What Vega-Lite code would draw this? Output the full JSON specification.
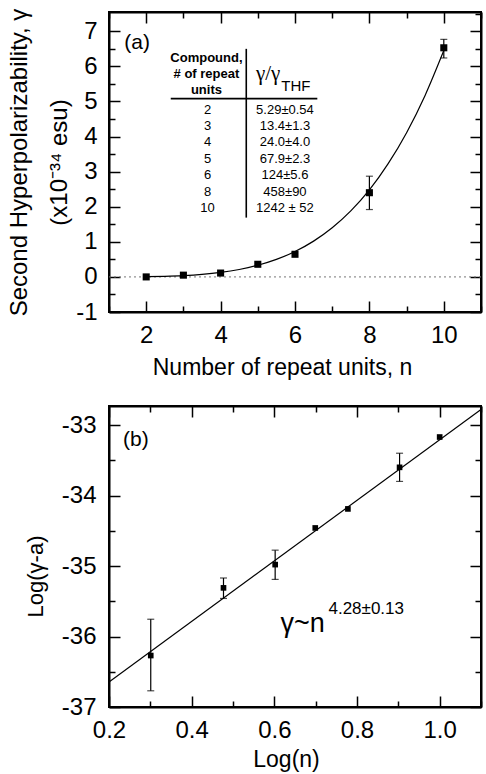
{
  "$schema": "https://vega.github.io/schema/vega-lite/v6.json",
  "background": "white",
  "padding": {"left": 6, "top": 7, "right": 0, "bottom": 0},
  "bounds": "flush",
  "spacing": 94,
  "datasets": {
    "topPts": [
      {"n": 2, "g": 0.0},
      {"n": 3, "g": 0.05},
      {"n": 4, "g": 0.11},
      {"n": 5, "g": 0.36},
      {"n": 6, "g": 0.645},
      {"n": 8, "g": 2.40, "lo": 1.92, "hi": 2.87},
      {"n": 10, "g": 6.53, "lo": 6.24, "hi": 6.77}
    ],
    "topFit": [
      {"n": 2, "g": 0.007}, {"n": 2.5, "g": 0.017}, {"n": 3, "g": 0.037}, {"n": 3.5, "g": 0.072},
      {"n": 4, "g": 0.128}, {"n": 4.5, "g": 0.212}, {"n": 5, "g": 0.332}, {"n": 5.5, "g": 0.499},
      {"n": 6, "g": 0.724}, {"n": 6.5, "g": 1.02}, {"n": 7, "g": 1.40}, {"n": 7.5, "g": 1.88},
      {"n": 8, "g": 2.48}, {"n": 8.5, "g": 3.22}, {"n": 9, "g": 4.11}, {"n": 9.5, "g": 5.18},
      {"n": 10, "g": 6.45}
    ],
    "topZero": [{"n": 1, "g": 0}, {"n": 11, "g": 0}],
    "table": [
      {"x": 3.62, "y": 6.24, "t": "Compound,", "role": "head"},
      {"x": 3.62, "y": 5.79, "t": "# of repeat", "role": "head"},
      {"x": 3.62, "y": 5.34, "t": "units", "role": "head"},
      {"x": 4.95, "y": 5.77, "t": "γ/γ", "role": "gam"},
      {"x": 5.63, "y": 5.44, "t": "THF", "role": "sub"},
      {"x": 3.65, "y": 4.77, "t": "2", "role": "val"},
      {"x": 3.65, "y": 4.30, "t": "3", "role": "val"},
      {"x": 3.65, "y": 3.84, "t": "4", "role": "val"},
      {"x": 3.65, "y": 3.37, "t": "5", "role": "val"},
      {"x": 3.65, "y": 2.90, "t": "6", "role": "val"},
      {"x": 3.65, "y": 2.43, "t": "8", "role": "val"},
      {"x": 3.65, "y": 1.97, "t": "10", "role": "val"},
      {"x": 5.73, "y": 4.77, "t": "5.29±0.54", "role": "val"},
      {"x": 5.73, "y": 4.30, "t": "13.4±1.3", "role": "val"},
      {"x": 5.73, "y": 3.84, "t": "24.0±4.0", "role": "val"},
      {"x": 5.73, "y": 3.37, "t": "67.9±2.3", "role": "val"},
      {"x": 5.73, "y": 2.90, "t": "124±5.6", "role": "val"},
      {"x": 5.73, "y": 2.43, "t": "458±90", "role": "val"},
      {"x": 5.73, "y": 1.97, "t": "1242 ± 52", "role": "val"}
    ],
    "tableH": [{"x": 2.66, "x2": 6.60, "y": 5.08}],
    "tableV": [{"x": 4.69, "y": 6.50, "y2": 1.69}],
    "labelA": [{"x": 1.41, "y": 6.67, "t": "(a)"}],
    "botPts": [
      {"x": 0.301, "y": -36.27, "lo": -36.77, "hi": -35.755},
      {"x": 0.477, "y": -35.31, "lo": -35.46, "hi": -35.17},
      {"x": 0.602, "y": -34.98, "lo": -35.19, "hi": -34.775},
      {"x": 0.699, "y": -34.46},
      {"x": 0.778, "y": -34.19},
      {"x": 0.903, "y": -33.60, "lo": -33.80, "hi": -33.40},
      {"x": 1.0, "y": -33.17}
    ],
    "botFit": [{"x": 0.2, "y": -36.645}, {"x": 1.1, "y": -32.78}],
    "labelB": [{"x": 0.234, "y": -33.21, "t": "(b)"}],
    "powMain": [{"x": 0.615, "y": -35.935, "t": "γ~n"}],
    "powSup": [{"x": 0.731, "y": -35.68, "t": "4.28±0.13"}]
  },
  "vconcat": [
    {
      "width": 372,
      "height": 300,
      "layer": [
        {
          "data": {"name": "topZero"},
          "mark": {"type": "line", "strokeDash": [2, 3], "color": "#777777", "strokeWidth": 1, "clip": true},
          "encoding": {
            "x": {"field": "n", "type": "quantitative", "scale": {"domain": [1, 11], "nice": false, "zero": false}, "axis": null},
            "y": {"field": "g", "type": "quantitative", "scale": {"domain": [-1, 7.55], "nice": false, "zero": false}, "axis": null}
          }
        },
        {
          "data": {"name": "topFit"},
          "mark": {"type": "line", "interpolate": "monotone", "color": "black", "strokeWidth": 1.2, "clip": true},
          "encoding": {
            "x": {"field": "n", "type": "quantitative", "scale": {"domain": [1, 11], "nice": false, "zero": false},
              "axis": {"orient": "top", "values": [1,2,3,4,5,6,7,8,9,10,11], "labels": false, "title": null,
                "tickSize": {"condition": {"test": "datum.value % 2 == 0", "value": -11}, "value": -6}}},
            "y": {"field": "g", "type": "quantitative", "scale": {"domain": [-1, 7.55], "nice": false, "zero": false},
              "axis": {"orient": "right", "values": [-1,-0.5,0,0.5,1,1.5,2,2.5,3,3.5,4,4.5,5,5.5,6,6.5,7,7.5], "labels": false, "title": null,
                "tickSize": {"condition": {"test": "datum.value % 1 == 0", "value": -11}, "value": -6}}}
          }
        },
        {
          "data": {"name": "topPts"},
          "transform": [{"filter": "datum.lo != null"}],
          "mark": {"type": "rule", "color": "black", "strokeWidth": 1.2, "clip": true},
          "encoding": {
            "x": {"field": "n", "type": "quantitative", "scale": {"domain": [1, 11], "nice": false, "zero": false}, "axis": null},
            "y": {"field": "lo", "type": "quantitative", "scale": {"domain": [-1, 7.55], "nice": false, "zero": false}, "axis": null},
            "y2": {"field": "hi"}
          }
        },
        {
          "data": {"name": "topPts"},
          "transform": [{"filter": "datum.lo != null"}],
          "mark": {"type": "tick", "orient": "horizontal", "color": "black", "size": 7, "thickness": 1.2, "clip": true},
          "encoding": {
            "x": {"field": "n", "type": "quantitative", "scale": {"domain": [1, 11], "nice": false, "zero": false}, "axis": null},
            "y": {"field": "lo", "type": "quantitative", "scale": {"domain": [-1, 7.55], "nice": false, "zero": false}, "axis": null}
          }
        },
        {
          "data": {"name": "topPts"},
          "transform": [{"filter": "datum.lo != null"}],
          "mark": {"type": "tick", "orient": "horizontal", "color": "black", "size": 7, "thickness": 1.2, "clip": true},
          "encoding": {
            "x": {"field": "n", "type": "quantitative", "scale": {"domain": [1, 11], "nice": false, "zero": false}, "axis": null},
            "y": {"field": "hi", "type": "quantitative", "scale": {"domain": [-1, 7.55], "nice": false, "zero": false}, "axis": null}
          }
        },
        {
          "data": {"name": "topPts"},
          "mark": {"type": "square", "filled": true, "color": "black", "size": 50, "opacity": 1},
          "encoding": {
            "x": {"field": "n", "type": "quantitative", "scale": {"domain": [1, 11], "nice": false, "zero": false},
              "axis": {"orient": "bottom", "values": [1,2,3,4,5,6,7,8,9,10,11],
                "labelExpr": "datum.value % 2 == 0 ? '' + datum.value : ''",
                "tickSize": {"condition": {"test": "datum.value % 2 == 0", "value": -11}, "value": -6},
                "labelPadding": 22, "title": "Number of repeat units, n", "titlePadding": 4, "titleX": 173}},
            "y": {"field": "g", "type": "quantitative", "scale": {"domain": [-1, 7.55], "nice": false, "zero": false},
              "axis": {"orient": "left", "values": [-1,-0.5,0,0.5,1,1.5,2,2.5,3,3.5,4,4.5,5,5.5,6,6.5,7],
                "labelExpr": "datum.value % 1 == 0 ? '' + datum.value : ''",
                "tickSize": {"condition": {"test": "datum.value % 1 == 0", "value": -11}, "value": -6},
                "labelPadding": 23, "title": ["Second Hyperpolarizability, γ", "(x10⁻³⁴ esu)\u00a0\u00a0\u00a0\u00a0\u00a0"], "titleFontSize": 24, "titleLineHeight": 40, "titlePadding": 4}}
          }
        },
        {
          "data": {"name": "table"},
          "transform": [{"filter": "datum.role == 'head'"}],
          "mark": {"type": "text", "font": "Liberation Sans", "fontSize": 13, "fontWeight": "bold", "color": "black", "align": "center", "baseline": "middle", "clip": true},
          "encoding": {
            "x": {"field": "x", "type": "quantitative", "scale": {"domain": [1, 11], "nice": false, "zero": false}, "axis": null},
            "y": {"field": "y", "type": "quantitative", "scale": {"domain": [-1, 7.55], "nice": false, "zero": false}, "axis": null},
            "text": {"field": "t"}
          }
        },
        {
          "data": {"name": "table"},
          "transform": [{"filter": "datum.role == 'val'"}],
          "mark": {"type": "text", "font": "Liberation Sans", "fontSize": 13, "color": "black", "align": "center", "baseline": "middle", "clip": true},
          "encoding": {
            "x": {"field": "x", "type": "quantitative", "scale": {"domain": [1, 11], "nice": false, "zero": false}, "axis": null},
            "y": {"field": "y", "type": "quantitative", "scale": {"domain": [-1, 7.55], "nice": false, "zero": false}, "axis": null},
            "text": {"field": "t"}
          }
        },
        {
          "data": {"name": "table"},
          "transform": [{"filter": "datum.role == 'gam'"}],
          "mark": {"type": "text", "font": "Liberation Serif", "fontSize": 21, "color": "black", "align": "left", "baseline": "middle", "clip": true},
          "encoding": {
            "x": {"field": "x", "type": "quantitative", "scale": {"domain": [1, 11], "nice": false, "zero": false}, "axis": null},
            "y": {"field": "y", "type": "quantitative", "scale": {"domain": [-1, 7.55], "nice": false, "zero": false}, "axis": null},
            "text": {"field": "t"}
          }
        },
        {
          "data": {"name": "table"},
          "transform": [{"filter": "datum.role == 'sub'"}],
          "mark": {"type": "text", "font": "Liberation Sans", "fontSize": 15, "color": "black", "align": "left", "baseline": "middle", "clip": true},
          "encoding": {
            "x": {"field": "x", "type": "quantitative", "scale": {"domain": [1, 11], "nice": false, "zero": false}, "axis": null},
            "y": {"field": "y", "type": "quantitative", "scale": {"domain": [-1, 7.55], "nice": false, "zero": false}, "axis": null},
            "text": {"field": "t"}
          }
        },
        {
          "data": {"name": "tableH"},
          "mark": {"type": "rule", "color": "black", "strokeWidth": 1.6, "clip": true},
          "encoding": {
            "x": {"field": "x", "type": "quantitative", "scale": {"domain": [1, 11], "nice": false, "zero": false}, "axis": null},
            "x2": {"field": "x2"},
            "y": {"field": "y", "type": "quantitative", "scale": {"domain": [-1, 7.55], "nice": false, "zero": false}, "axis": null}
          }
        },
        {
          "data": {"name": "tableV"},
          "mark": {"type": "rule", "color": "black", "strokeWidth": 1.6, "clip": true},
          "encoding": {
            "x": {"field": "x", "type": "quantitative", "scale": {"domain": [1, 11], "nice": false, "zero": false}, "axis": null},
            "y": {"field": "y", "type": "quantitative", "scale": {"domain": [-1, 7.55], "nice": false, "zero": false}, "axis": null},
            "y2": {"field": "y2"}
          }
        },
        {
          "data": {"name": "labelA"},
          "mark": {"type": "text", "font": "Liberation Sans", "fontSize": 21, "color": "black", "align": "left", "baseline": "middle", "clip": true},
          "encoding": {
            "x": {"field": "x", "type": "quantitative", "scale": {"domain": [1, 11], "nice": false, "zero": false}, "axis": null},
            "y": {"field": "y", "type": "quantitative", "scale": {"domain": [-1, 7.55], "nice": false, "zero": false}, "axis": null},
            "text": {"field": "t"}
          }
        }
      ],
      "resolve": {"axis": {"x": "independent", "y": "independent"}}
    },
    {
      "width": 372,
      "height": 301,
      "layer": [
        {
          "data": {"name": "botFit"},
          "mark": {"type": "line", "color": "black", "strokeWidth": 1.2, "clip": true},
          "encoding": {
            "x": {"field": "x", "type": "quantitative", "scale": {"domain": [0.2, 1.1], "nice": false, "zero": false},
              "axis": {"orient": "top", "values": [0.2,0.3,0.4,0.5,0.6,0.7,0.8,0.9,1.0,1.1], "labels": false, "title": null,
                "tickSize": {"condition": {"test": "round(datum.value*10) % 2 == 0", "value": -11}, "value": -6}}},
            "y": {"field": "y", "type": "quantitative", "scale": {"domain": [-37, -32.73], "nice": false, "zero": false},
              "axis": {"orient": "right", "values": [-37,-36.5,-36,-35.5,-35,-34.5,-34,-33.5,-33], "labels": false, "title": null,
                "tickSize": {"condition": {"test": "datum.value % 1 == 0", "value": -11}, "value": -6}}}
          }
        },
        {
          "data": {"name": "botPts"},
          "transform": [{"filter": "datum.lo != null"}],
          "mark": {"type": "rule", "color": "black", "strokeWidth": 1.2, "clip": true},
          "encoding": {
            "x": {"field": "x", "type": "quantitative", "scale": {"domain": [0.2, 1.1], "nice": false, "zero": false}, "axis": null},
            "y": {"field": "lo", "type": "quantitative", "scale": {"domain": [-37, -32.73], "nice": false, "zero": false}, "axis": null},
            "y2": {"field": "hi"}
          }
        },
        {
          "data": {"name": "botPts"},
          "transform": [{"filter": "datum.lo != null"}],
          "mark": {"type": "tick", "orient": "horizontal", "color": "black", "size": 7, "thickness": 1.2, "clip": true},
          "encoding": {
            "x": {"field": "x", "type": "quantitative", "scale": {"domain": [0.2, 1.1], "nice": false, "zero": false}, "axis": null},
            "y": {"field": "lo", "type": "quantitative", "scale": {"domain": [-37, -32.73], "nice": false, "zero": false}, "axis": null}
          }
        },
        {
          "data": {"name": "botPts"},
          "transform": [{"filter": "datum.lo != null"}],
          "mark": {"type": "tick", "orient": "horizontal", "color": "black", "size": 7, "thickness": 1.2, "clip": true},
          "encoding": {
            "x": {"field": "x", "type": "quantitative", "scale": {"domain": [0.2, 1.1], "nice": false, "zero": false}, "axis": null},
            "y": {"field": "hi", "type": "quantitative", "scale": {"domain": [-37, -32.73], "nice": false, "zero": false}, "axis": null}
          }
        },
        {
          "data": {"name": "botPts"},
          "mark": {"type": "square", "filled": true, "color": "black", "size": 32, "opacity": 1},
          "encoding": {
            "x": {"field": "x", "type": "quantitative", "scale": {"domain": [0.2, 1.1], "nice": false, "zero": false},
              "axis": {"orient": "bottom", "values": [0.2,0.3,0.4,0.5,0.6,0.7,0.8,0.9,1.0,1.1],
                "labelExpr": "round(datum.value*10) % 2 == 0 ? format(datum.value, '.1f') : ''",
                "tickSize": {"condition": {"test": "round(datum.value*10) % 2 == 0", "value": -11}, "value": -6},
                "labelPadding": 22, "title": "Log(n)", "titlePadding": 1, "titleX": 177}},
            "y": {"field": "y", "type": "quantitative", "scale": {"domain": [-37, -32.73], "nice": false, "zero": false},
              "axis": {"orient": "left", "values": [-37,-36.5,-36,-35.5,-35,-34.5,-34,-33.5,-33],
                "labelExpr": "datum.value % 1 == 0 ? '' + datum.value : ''",
                "tickSize": {"condition": {"test": "datum.value % 1 == 0", "value": -11}, "value": -6},
                "labelPadding": 24, "title": "Log(γ-a)", "titleFontSize": 22, "titlePadding": 14, "titleY": 170}}
          }
        },
        {
          "data": {"name": "labelB"},
          "mark": {"type": "text", "font": "Liberation Sans", "fontSize": 21, "color": "black", "align": "left", "baseline": "middle", "clip": true},
          "encoding": {
            "x": {"field": "x", "type": "quantitative", "scale": {"domain": [0.2, 1.1], "nice": false, "zero": false}, "axis": null},
            "y": {"field": "y", "type": "quantitative", "scale": {"domain": [-37, -32.73], "nice": false, "zero": false}, "axis": null},
            "text": {"field": "t"}
          }
        },
        {
          "data": {"name": "powMain"},
          "mark": {"type": "text", "font": "Liberation Sans", "fontSize": 27, "color": "black", "align": "left", "baseline": "alphabetic", "clip": true},
          "encoding": {
            "x": {"field": "x", "type": "quantitative", "scale": {"domain": [0.2, 1.1], "nice": false, "zero": false}, "axis": null},
            "y": {"field": "y", "type": "quantitative", "scale": {"domain": [-37, -32.73], "nice": false, "zero": false}, "axis": null},
            "text": {"field": "t"}
          }
        },
        {
          "data": {"name": "powSup"},
          "mark": {"type": "text", "font": "Liberation Sans", "fontSize": 17, "color": "black", "align": "left", "baseline": "alphabetic", "clip": true},
          "encoding": {
            "x": {"field": "x", "type": "quantitative", "scale": {"domain": [0.2, 1.1], "nice": false, "zero": false}, "axis": null},
            "y": {"field": "y", "type": "quantitative", "scale": {"domain": [-37, -32.73], "nice": false, "zero": false}, "axis": null},
            "text": {"field": "t"}
          }
        }
      ],
      "resolve": {"axis": {"x": "independent", "y": "independent"}}
    }
  ],
  "config": {
    "view": {"stroke": "black", "strokeWidth": 2},
    "axis": {
      "domainColor": "black", "domainWidth": 2, "tickColor": "black", "tickWidth": 1.5,
      "labelFont": "Liberation Sans", "labelFontSize": 24, "labelColor": "black",
      "titleFont": "Liberation Sans", "titleFontSize": 23, "titleFontWeight": "normal", "titleColor": "black",
      "grid": false, "labelOverlap": false, "labelFlush": false, "labelBound": false
    }
  }
}
